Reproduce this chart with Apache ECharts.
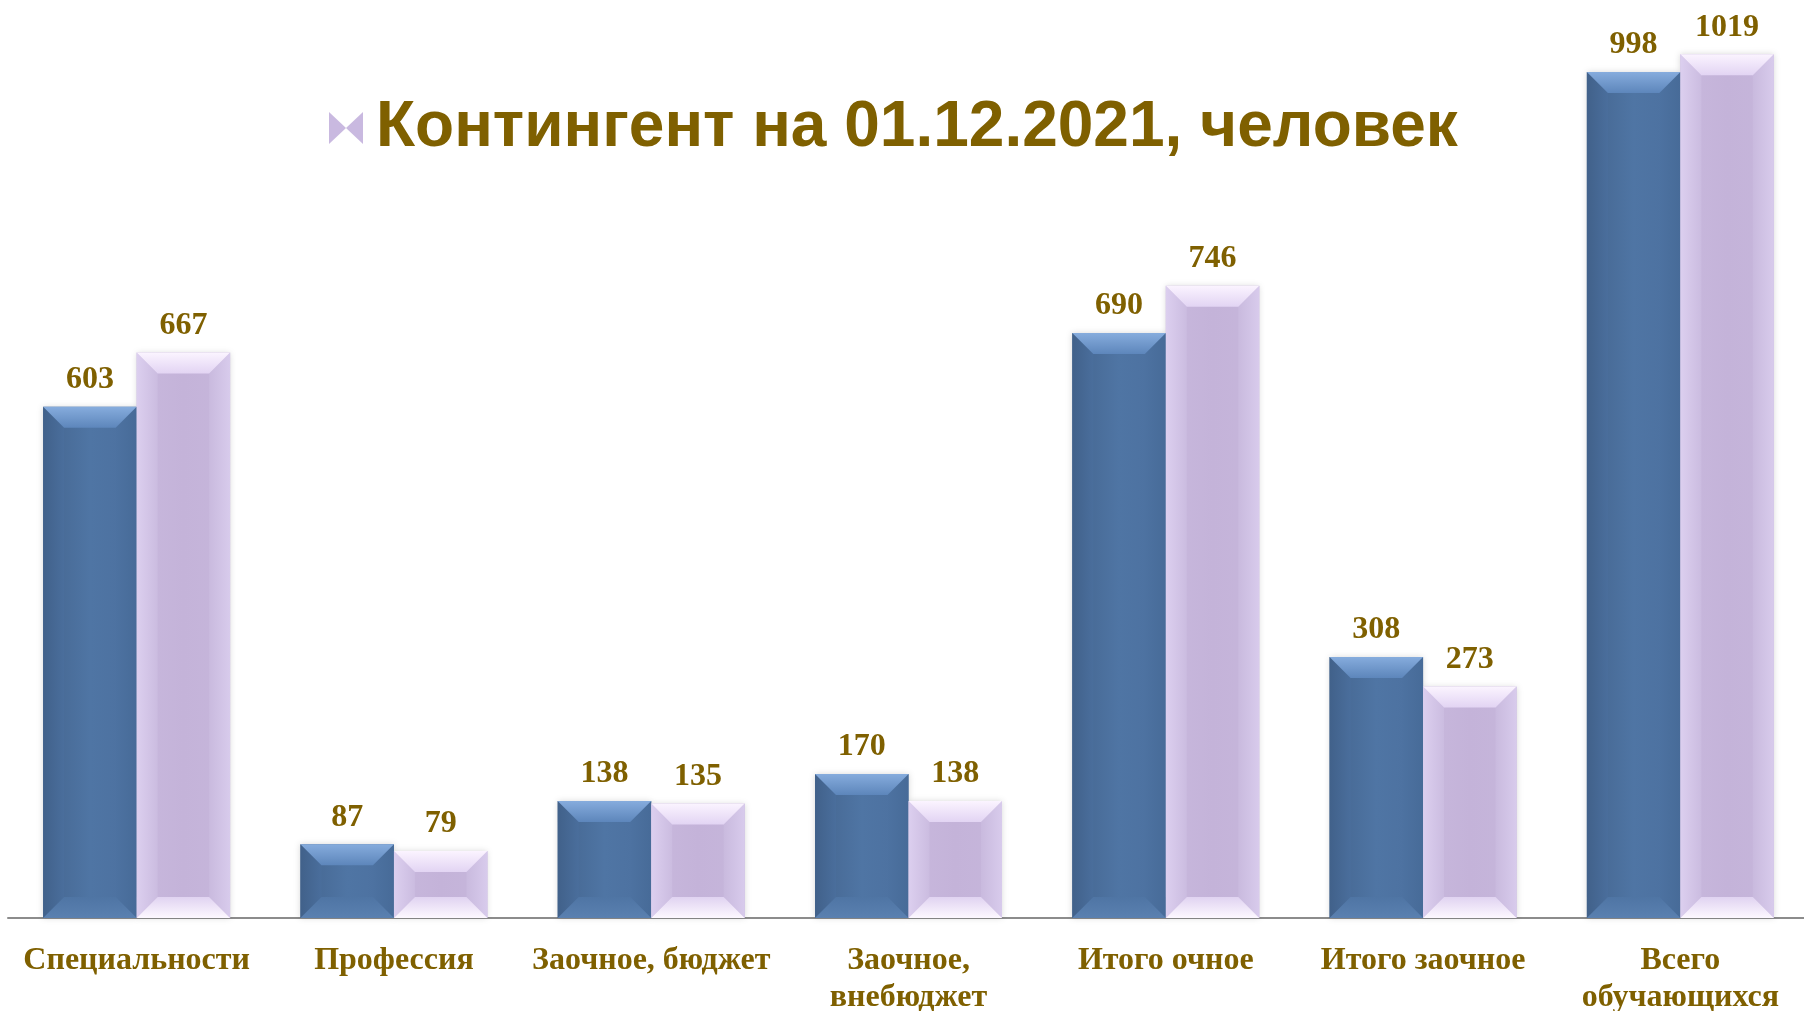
<!DOCTYPE html>
<html>
<head>
<meta charset="utf-8">
<style>
html,body{margin:0;padding:0;background:#fff;overflow:hidden;}
#chart{width:1810px;height:1011px;}
</style>
<script src="https://cdn.jsdelivr.net/npm/echarts@6/dist/echarts.min.js"></script>
</head>
<body>
<div id="chart"></div>
<script>
const categories = ['Специальности', 'Профессия', 'Заочное, бюджет', 'Заочное,\nвнебюджет', 'Итого очное', 'Итого заочное', 'Всего\nобучающихся'];
const seriesPrevName = 'Контингент (предыдущий период), человек';
const seriesPrev = [603, 87, 138, 170, 690, 308, 998];
const seriesCurName = 'Контингент на 01.12.2021, человек';
const seriesCur = [667, 79, 135, 138, 746, 273, 1019];

const textColor = '#7F6000';
const BAR_W = 93.5;
const chart = echarts.init(document.getElementById('chart'), null, {renderer: 'canvas'});

const G = echarts.graphic;
const vgrad = (c1, c2) => new G.LinearGradient(0, 0, 0, 1, [{offset: 0, color: c1}, {offset: 1, color: c2}]);
const hgrad = (c1, c2) => new G.LinearGradient(0, 0, 1, 0, [{offset: 0, color: c1}, {offset: 1, color: c2}]);

const blueBody = new G.LinearGradient(0, 0, 1, 0, [
  {offset: 0, color: '#44658F'},
  {offset: 0.5, color: '#4F75A4'},
  {offset: 1, color: '#4C709F'}
]);
const lavBody = new G.LinearGradient(0, 0, 1, 0, [
  {offset: 0, color: '#C8B8DD'},
  {offset: 0.5, color: '#C4B3D9'},
  {offset: 1, color: '#C6B6DB'}
]);

const bevel = {
  prev: {
    top: vgrad('#86ACDD', '#5D86BB'),
    bottom: vgrad('#4F75A4', '#5A80B0'),
    left: hgrad('#41618A', '#4A6E9C'),
    right: hgrad('#4D72A1', '#476B98')
  },
  cur: {
    top: vgrad('#FBF4FF', '#E2D4F3'),
    bottom: vgrad('#E0D3F1', '#FDF8FF'),
    left: hgrad('#DCCFEF', '#CBBCE0'),
    right: hgrad('#C9BADE', '#D8CBEC')
  }
};

function makeBevel(kind, side) {
  return function (params, api) {
    const cat = api.value(0), val = api.value(1);
    const top = api.coord([cat, val]);
    const base = api.coord([cat, 0]);
    const cx = top[0] + side * BAR_W / 2;
    const x0 = cx - BAR_W / 2, x1 = cx + BAR_W / 2;
    const y0 = top[1], y1 = base[1];
    const d = Math.min(21, (y1 - y0) / 2);
    const c = bevel[kind];
    return {
      type: 'group',
      silent: true,
      children: [
        {type: 'polygon', shape: {points: [[x0, y0], [x0 + d, y0 + d], [x0 + d, y1 - d], [x0, y1]]}, style: {fill: c.left}},
        {type: 'polygon', shape: {points: [[x1, y0], [x1 - d, y0 + d], [x1 - d, y1 - d], [x1, y1]]}, style: {fill: c.right}},
        {type: 'polygon', shape: {points: [[x0, y0], [x1, y0], [x1 - d, y0 + d], [x0 + d, y0 + d]]}, style: {fill: c.top}},
        {type: 'polygon', shape: {points: [[x0, y1], [x1, y1], [x1 - d, y1 - d], [x0 + d, y1 - d]]}, style: {fill: c.bottom}}
      ]
    };
  };
}

const labelStyle = {
  show: true,
  position: 'top',
  distance: 11,
  color: textColor,
  fontFamily: 'Liberation Serif',
  fontWeight: 'bold',
  fontSize: 32
};

chart.setOption({
  backgroundColor: '#ffffff',
  animation: false,
  legend: {
    data: [{name: seriesCurName}],
    left: 329,
    top: 96,
    padding: 0,
    itemWidth: 34,
    itemHeight: 32,
    icon: 'path://M0,0 L17,16 L0,32 Z M34,0 L17,16 L34,32 Z',
    selectedMode: false,
    itemStyle: {color: '#C9B9E0'},
    textStyle: {
      color: textColor,
      fontFamily: 'Liberation Sans',
      fontWeight: 'bold',
      fontSize: 64,
      padding: [0, 0, 0, 8]
    }
  },
  grid: {left: 8, width: 1801, top: 0, bottom: 93, containLabel: false, outerBoundsMode: 'none'},
  xAxis: {
    type: 'category',
    data: categories,
    axisTick: {show: false},
    axisLine: {show: true, lineStyle: {color: '#8C8C8C', width: 2}},
    axisLabel: {
      interval: 0,
      margin: 24,
      color: textColor,
      fontFamily: 'Liberation Serif',
      fontWeight: 'bold',
      fontSize: 32,
      lineHeight: 37
    }
  },
  yAxis: {
    type: 'value',
    min: 0,
    max: 1083,
    show: false,
    splitLine: {show: false}
  },
  series: [
    {
      name: seriesPrevName,
      type: 'bar',
      data: seriesPrev,
      barWidth: BAR_W,
      barGap: '0%',
      itemStyle: {color: blueBody, shadowColor: 'rgba(0,0,0,0.15)', shadowBlur: 6},
      label: labelStyle
    },
    {
      name: seriesCurName,
      type: 'bar',
      data: seriesCur,
      barWidth: BAR_W,
      itemStyle: {color: lavBody, shadowColor: 'rgba(0,0,0,0.15)', shadowBlur: 6},
      label: labelStyle
    },
    {
      name: 'bevelPrev',
      type: 'custom',
      silent: true,
      z: 3,
      renderItem: makeBevel('prev', -1),
      encode: {x: 0, y: 1},
      data: seriesPrev.map((v, i) => [i, v])
    },
    {
      name: 'bevelCur',
      type: 'custom',
      silent: true,
      z: 3,
      renderItem: makeBevel('cur', 1),
      encode: {x: 0, y: 1},
      data: seriesCur.map((v, i) => [i, v])
    }
  ]
});
</script>
</body>
</html>
